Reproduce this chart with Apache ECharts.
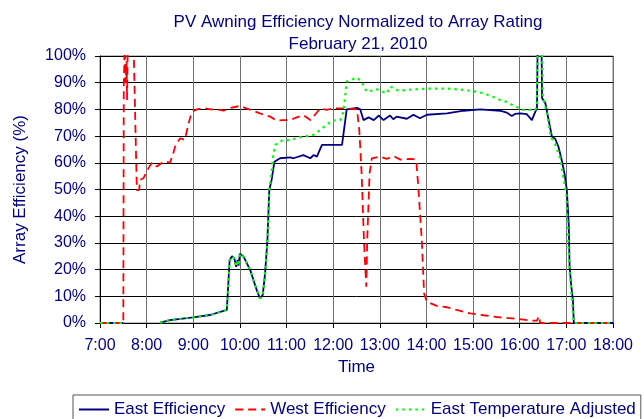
<!DOCTYPE html>
<html>
<head>
<meta charset="utf-8">
<script src="https://cdn.jsdelivr.net/npm/echarts@6/dist/echarts.min.js"></script>
<style>
  html, body { margin: 0; padding: 0; background: #fff; }
  #main { width: 644px; height: 419px; }
</style>
</head>
<body>
<div id="main"></div>
<script>
// time of day in hours, efficiency in percent (values above 100 get clipped)
var eastTime = [7, 7.5, null, 8.29, 8.5, 9.0, 9.36, 9.72, 9.78, 9.83, 9.88, 9.92, 9.95, 9.97, 10.0, 10.08, 10.15, 10.22, 10.29, 10.36, 10.43, 10.49, 10.54, 10.59, 10.63, 10.68, 10.74, 10.86, 11.08, 11.15, 11.36, 11.51, 11.58, 11.65, 11.76, 12.19, 12.29, 12.51, 12.58, 12.65, 12.76, 12.87, 12.98, 13.08, 13.22, 13.29, 13.36, 13.58, 13.72, 13.86, 14.01, 14.44, 14.8, 15.15, 15.58, 15.72, 15.83, 15.9, 16.01, 16.15, 16.26, 16.33, 16.37, 16.39, 16.46, 16.48, 16.55, 16.62, 16.69, 16.76, 16.83, 16.9, 16.96, 17.01, 17.05, 17.07, 17.1, 17.11, 17.14, 17.15, 17.16, 18];
var eastEff = [0, 0, null, 0.1, 1.1, 2.1, 3, 4.9, 23.6, 25, 24.2, 21, 23.6, 21.5, 26, 24.8, 22.3, 19.9, 16.1, 12.4, 9.2, 10.5, 18.6, 31, 49.8, 53.6, 60.4, 61.7, 62, 61.7, 62.9, 61.7, 62.9, 62.3, 66.7, 66.7, 80, 80.6, 80, 76, 77, 76, 77.7, 76, 77.7, 76.3, 77.3, 76.5, 78, 76.7, 78, 78.5, 79.5, 80, 79.5, 78.8, 77.5, 78.3, 78.5, 78.2, 76, 79, 80.4, 115, 115, 84.2, 82.3, 76, 69.8, 69, 66, 61, 56, 49.8, 37.3, 21, 14.8, 14.8, 8.6, 8.6, 0, 0];

var westTime = [7, 7.5, 7.51, 7.53, 7.55, 7.57, 7.58, 7.6, 7.7, 7.79, 7.84, 7.86, 7.93, 8.04, 8.11, 8.22, 8.33, 8.4, 8.5, 8.57, 8.62, 8.72, 8.82, 8.9, 8.97, 9.08, 9.22, 9.36, 9.5, 9.65, 9.79, 10.0, 10.15, 10.29, 10.43, 10.65, 10.79, 10.93, 11.08, 11.22, 11.36, 11.51, 11.58, 11.72, 11.86, 12.0, 12.15, 12.29, 12.51, 12.56, 12.61, 12.66, 12.71, 12.73, 12.78, 12.83, 13.01, 13.15, 13.3, 13.44, 13.65, 13.78, 13.83, 13.9, 13.95, 14.01, 14.22, 14.44, 14.65, 14.94, 15.23, 15.58, 15.94, 16.23, 16.37, 16.41, 16.44, 18];
var westEff = [0, 0, 88.5, 105, 90, 98, 83.5, 110, 120, 49.8, 49.8, 53.6, 54.2, 58, 60, 58.6, 60, 60.5, 60, 63.5, 66.7, 69.2, 68.6, 74.8, 79.1, 80, 80.5, 80, 80, 79.5, 80.5, 81.3, 80.3, 79.5, 78.5, 77.3, 75.8, 76, 76, 77, 77.9, 76, 77.3, 80.4, 79.8, 80.4, 80.4, 80.4, 80, 72.3, 56, 31, 13.6, 31, 56, 61.7, 62.3, 61.5, 62.5, 61.2, 61.5, 61.2, 49.8, 31, 11.1, 8, 6.4, 5.9, 4.9, 3.6, 2.9, 2.1, 1.6, 0.9, 0.9, 2.6, 0, 0];

var tempTime = [7, 7.5, null, 8.29, 8.5, 9.0, 9.36, 9.72, 9.78, 9.83, 9.88, 9.92, 9.95, 9.97, 10.0, 10.08, 10.15, 10.22, 10.29, 10.36, 10.43, 10.49, 10.54, 10.59, 10.63, 10.68, 10.72, 10.76, 10.92, 11.08, 11.26, 11.43, 11.58, 11.72, 11.97, 12.15, 12.22, 12.29, 12.51, 12.61, 12.72, 12.94, 13.15, 13.22, 13.4, 13.72, 14.08, 14.44, 14.8, 15.08, 15.23, 15.44, 15.58, 15.72, 15.87, 16.08, 16.33, 16.37, 16.39, 16.46, 16.5, 16.58, 16.66, 16.76, 16.86, 16.93, 17.0, 17.03, 17.07, 17.12, 17.15, 17.16, 18];
var tempEff = [0, 0, null, 0.1, 1.1, 2.1, 3, 4.9, 23.6, 25, 24.2, 21, 23.6, 21.5, 26, 24.8, 22.3, 19.9, 16.1, 12.4, 9.2, 10.5, 18.6, 31, 49.8, 57, 63.5, 66.7, 68.5, 68.5, 69.5, 70, 70.5, 72.3, 75.8, 76, 79, 90.4, 91.9, 90.4, 86.6, 87.5, 86, 88.6, 87, 87.5, 87.8, 87.8, 87.3, 86.6, 86, 84.6, 83.5, 82.8, 81.4, 79.8, 79.8, 81, 115, 115, 84, 79, 70, 67, 62, 55, 48, 35, 19, 8.6, 8.6, 0, 0];

var xTicks = ['7:00', '8:00', '9:00', '10:00', '11:00', '12:00', '13:00', '14:00', '15:00', '16:00', '17:00', '18:00'];

function pairs(t, v) {
  return t.map(function (x, i) { return x === null ? [null, null] : [x, v[i]]; });
}

var chart = echarts.init(document.getElementById('main'));
var navy = '#000080';
var font = '"Liberation Sans", Arial, sans-serif';

chart.setOption({
  animation: false,
  backgroundColor: '#fff',
  textStyle: { fontFamily: font },
  title: {
    text: 'PV Awning Efficiency Normalized to Array Rating\nFebruary 21, 2010',
    left: 353,
    top: 7,
    textAlign: 'center',
    textStyle: { color: navy, fontSize: 17, fontWeight: 'normal', lineHeight: 21.5, fontFamily: font }
  },
  grid: {
    left: 100, right: 31, top: 56, bottom: 96,
    show: true, borderColor: '#808080', borderWidth: 1, backgroundColor: '#fff'
  },
  legend: {
    left: 73, top: 395,
    padding: [6, 5, 6, 5],
    borderColor: '#555', borderWidth: 1,
    itemWidth: 30, itemHeight: 10, itemGap: 9,
    itemStyle: { opacity: 0 },
    textStyle: { color: navy, fontSize: 17, fontFamily: font },
    data: ['East Efficiency', 'West Efficiency', 'East Temperature Adjusted']
  },
  xAxis: {
    type: 'value', min: 7, max: 18, interval: 1,
    name: 'Time', nameLocation: 'middle', nameGap: 36,
    nameTextStyle: { color: navy, fontSize: 17, fontFamily: font },
    axisLine: { show: true, lineStyle: { color: '#000' } },
    axisTick: { show: true, inside: false, length: 5, lineStyle: { color: '#000' } },
    axisLabel: {
      color: navy, fontSize: 16, margin: 15, fontFamily: font,
      formatter: function (v) { return xTicks[Math.round(v - 7)]; }
    },
    splitLine: { show: true, lineStyle: { color: '#707070', width: 1 } }
  },
  yAxis: {
    type: 'value', min: 0, max: 100, interval: 10,
    name: 'Array Efficiency (%)', nameLocation: 'middle', nameGap: 71,
    nameTextStyle: { color: navy, fontSize: 17, fontFamily: font },
    axisLine: { show: true, lineStyle: { color: '#000' } },
    axisTick: { show: true, inside: false, length: 5, lineStyle: { color: '#000' } },
    axisLabel: { color: navy, fontSize: 16, margin: 14, fontFamily: font, formatter: '{value}%' },
    splitLine: { show: true, lineStyle: { color: '#000', width: 1 } }
  },
  series: [
    {
      name: 'East Efficiency', type: 'line', symbol: 'none', clip: true,
      data: pairs(eastTime, eastEff),
      lineStyle: { color: navy, width: 1.8 },
      itemStyle: { color: navy }
    },
    {
      name: 'West Efficiency', type: 'line', symbol: 'none', clip: true,
      data: pairs(westTime, westEff),
      lineStyle: { color: '#ff0000', width: 1.8, type: [8, 5] },
      itemStyle: { color: '#ff0000' }
    },
    {
      name: 'East Temperature Adjusted', type: 'line', symbol: 'none', clip: true,
      data: pairs(tempTime, tempEff),
      lineStyle: { color: '#00ff00', width: 2.2, type: [2.5, 4] },
      itemStyle: { color: '#00ff00' }
    }
  ]
});
</script>
</body>
</html>
